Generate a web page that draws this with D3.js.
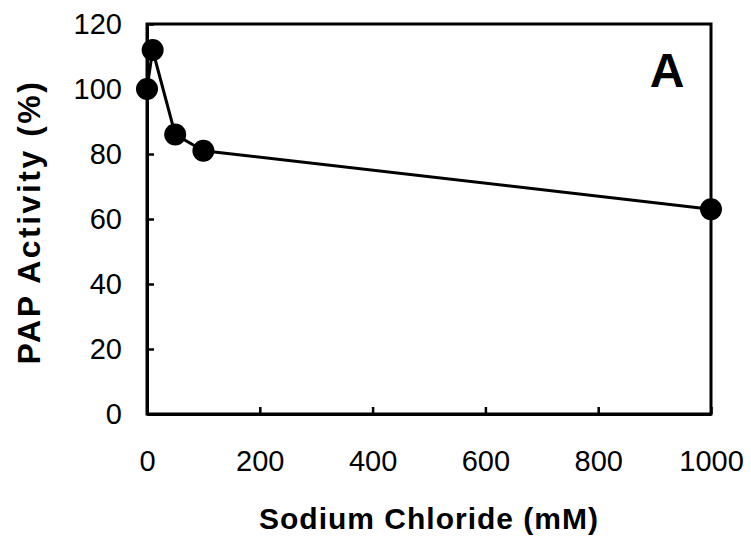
<!DOCTYPE html>
<html>
<head>
<meta charset="utf-8">
<script src="https://cdn.jsdelivr.net/npm/d3@7"></script>
<style>
  html, body { margin: 0; padding: 0; background: #fff; }
  svg text { font-family: "Liberation Sans", Arial, sans-serif; fill: #000; }
</style>
</head>
<body>
<svg id="chart" width="751" height="539"></svg>
<script>
// NaCl concentration (mM) and relative PAP activity (%)
const naclConc = [0, 10, 50, 100, 1000];
const papActivity = [100, 112, 86, 81, 63];
const xTicks = [0, 200, 400, 600, 800, 1000];
const yTicks = [0, 20, 40, 60, 80, 100, 120];
const panelLabel = "A";
const xTitle = "Sodium Chloride (mM)";
const yTitle = "PAP Activity (%)";

const svg = d3.select("#chart");
const m = { left: 147, top: 24, right: 711, bottom: 414 };

const x = d3.scaleLinear().domain([0, 1000]).range([m.left, m.right]);
const y = d3.scaleLinear().domain([0, 120]).range([m.bottom, m.top]);

// Frame
svg.append("rect")
  .attr("x", m.left).attr("y", m.top)
  .attr("width", m.right - m.left).attr("height", m.bottom - m.top)
  .attr("fill", "none").attr("stroke", "#000").attr("stroke-width", 3);

// Axes with inward ticks
const xAxis = svg.append("g")
  .attr("transform", `translate(0,${m.bottom})`)
  .call(d3.axisBottom(x).tickValues(xTicks).tickFormat(d3.format("d"))
    .tickSizeInner(-7).tickSizeOuter(0).tickPadding(36));
const yAxis = svg.append("g")
  .attr("transform", `translate(${m.left},0)`)
  .call(d3.axisLeft(y).tickValues(yTicks).tickFormat(d3.format("d"))
    .tickSizeInner(-7).tickSizeOuter(0).tickPadding(25));

[xAxis, yAxis].forEach(g => {
  g.select(".domain").attr("stroke", "#000").attr("stroke-width", 3);
  g.selectAll(".tick line").attr("stroke", "#000").attr("stroke-width", 2.5);
  g.selectAll(".tick text")
    .attr("font-family", "Liberation Sans, Arial, sans-serif")
    .attr("font-size", 29).attr("fill", "#000");
});

// Data line
const line = d3.line().x((d, i) => x(naclConc[i])).y(d => y(d));
svg.append("path")
  .datum(papActivity)
  .attr("d", line)
  .attr("fill", "none").attr("stroke", "#000").attr("stroke-width", 3);

// Markers
svg.selectAll("circle.pt")
  .data(papActivity)
  .enter().append("circle")
  .attr("class", "pt")
  .attr("cx", (d, i) => x(naclConc[i]))
  .attr("cy", d => y(d))
  .attr("r", 11)
  .attr("fill", "#000");

// Titles
svg.append("text")
  .attr("x", (m.left + m.right) / 2).attr("y", 529)
  .attr("text-anchor", "middle")
  .attr("font-size", 30).attr("font-weight", "bold")
  .attr("letter-spacing", 1)
  .text(xTitle);

svg.append("text")
  .attr("transform", `translate(40,222) rotate(-90)`)
  .attr("text-anchor", "middle")
  .attr("font-size", 32).attr("font-weight", "bold")
  .attr("letter-spacing", 2.5)
  .text(yTitle);

svg.append("text")
  .attr("x", 667).attr("y", 87)
  .attr("text-anchor", "middle")
  .attr("font-size", 48).attr("font-weight", "bold")
  .text(panelLabel);
</script>
</body>
</html>
